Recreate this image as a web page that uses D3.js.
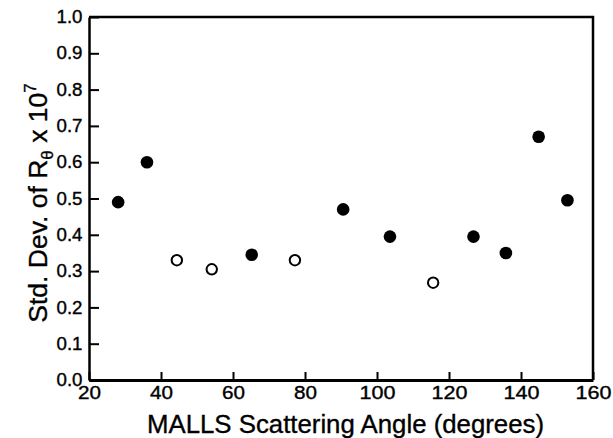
<!DOCTYPE html>
<html>
<head>
<meta charset="utf-8">
<script src="https://cdn.jsdelivr.net/npm/d3@7"></script>
<style>
  html, body { margin: 0; padding: 0; background: #fff; }
  svg { display: block; }
  text { font-family: "Liberation Sans", Arial, Helvetica, sans-serif; fill: #000; stroke: #000; stroke-width: 0.35px; }
</style>
</head>
<body>
<svg id="chart" width="613" height="438"></svg>
<script>
// Standard deviation of the Rayleigh ratio at each MALLS detector angle
const filledAngles = [28.1, 36.1, 65.2, 90.6, 103.6, 126.8, 135.8, 144.9, 152.9];
const filledStdDev = [0.49, 0.60, 0.345, 0.47, 0.395, 0.395, 0.35, 0.67, 0.495];
const openAngles = [44.4, 54.1, 77.2, 115.6];
const openStdDev = [0.33, 0.305, 0.33, 0.268];

const xTicks = [20, 40, 60, 80, 100, 120, 140, 160];
const yTicks = [0.0, 0.1, 0.2, 0.3, 0.4, 0.5, 0.6, 0.7, 0.8, 0.9, 1.0];

const width = 613, height = 438;
const margin = { top: 17, right: 20, bottom: 58, left: 89 };

const svg = d3.select("#chart");

const x = d3.scaleLinear().domain([20, 160]).range([margin.left, width - margin.right]);
const y = d3.scaleLinear().domain([0, 1]).range([height - margin.bottom, margin.top]);

// frame: top and right edges
svg.append("path")
  .attr("d", `M${x(20)},${y(1)}H${x(160)}V${y(0)}`)
  .attr("fill", "none")
  .attr("stroke", "#000")
  .attr("stroke-width", 2.5);

// bottom axis with inward ticks
const xAxis = svg.append("g")
  .attr("transform", `translate(0,${y(0)})`)
  .call(d3.axisBottom(x).tickValues(xTicks).tickSizeInner(-8).tickSizeOuter(0).tickPadding(14)
    .tickFormat(d3.format("d")));
xAxis.select(".domain").attr("stroke-width", 3);
xAxis.selectAll(".tick line").attr("stroke-width", 2);
xAxis.selectAll(".tick text")
  .attr("font-size", 17.5)
  .attr("dy", "0.71em")
  .attr("y", 7)
  .attr("textLength", d => d >= 100 ? 36 : 23)
  .attr("lengthAdjust", "spacingAndGlyphs");

// left axis with inward ticks
const yAxis = svg.append("g")
  .attr("transform", `translate(${x(20)},0)`)
  .call(d3.axisLeft(y).tickValues(yTicks).tickSizeInner(-10).tickSizeOuter(0).tickPadding(16)
    .tickFormat(d3.format(".1f")));
yAxis.select(".domain").attr("stroke-width", 2.5);
yAxis.selectAll(".tick line").attr("stroke-width", 2);
yAxis.selectAll(".tick text")
  .attr("font-size", 17.5)
  .attr("x", -6.5)
  .attr("textLength", 26)
  .attr("lengthAdjust", "spacingAndGlyphs");
svg.selectAll(".tick text")
  .attr("font-family", "'Liberation Sans', Arial, sans-serif")
  .attr("fill", "#000");

// filled markers
svg.append("g").selectAll("circle")
  .data(filledAngles.map((a, i) => [a, filledStdDev[i]]))
  .join("circle")
  .attr("cx", d => x(d[0]))
  .attr("cy", d => y(d[1]))
  .attr("r", 6.3)
  .attr("fill", "#000");

// open markers
svg.append("g").selectAll("circle")
  .data(openAngles.map((a, i) => [a, openStdDev[i]]))
  .join("circle")
  .attr("cx", d => x(d[0]))
  .attr("cy", d => y(d[1]))
  .attr("r", 5.2)
  .attr("fill", "#fff")
  .attr("stroke", "#000")
  .attr("stroke-width", 2);

// axis titles
svg.append("text")
  .attr("x", 345.5)
  .attr("y", 433)
  .attr("text-anchor", "middle")
  .attr("font-size", 25.5)
  .attr("textLength", 397)
  .attr("lengthAdjust", "spacingAndGlyphs")
  .text("MALLS Scattering Angle (degrees)");

const yTitle = svg.append("text")
  .attr("transform", "translate(47,203) rotate(-90)")
  .attr("text-anchor", "middle")
  .attr("font-size", 26.5);
yTitle.append("tspan").text("Std. Dev. of R");
yTitle.append("tspan").attr("font-size", 17).attr("dy", 6).text("θ");
yTitle.append("tspan").attr("dy", -6).text(" x 10");
yTitle.append("tspan").attr("font-size", 17).attr("dy", -11).text("7");
</script>
</body>
</html>
